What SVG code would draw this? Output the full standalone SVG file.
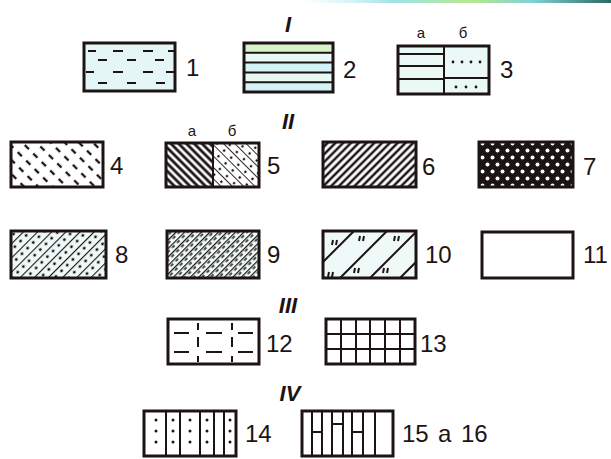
<svg xmlns="http://www.w3.org/2000/svg" width="611" height="459" viewBox="0 0 611 459">
<style>
.box{fill:none;stroke:#1c1414;stroke-width:3}
.ln{stroke:#1c1414;stroke-width:2;fill:none}
.lbl{font-family:"Liberation Sans",Arial,sans-serif;font-size:24px;fill:#1c1414}
.sm{font-family:"Liberation Sans",Arial,sans-serif;font-size:15px;fill:#1c1414}
.rom{font-family:"Liberation Sans",Arial,sans-serif;font-size:22px;font-style:italic;font-weight:bold;fill:#1c1414}
</style>
<defs>
<pattern id="p4" width="10" height="12" patternUnits="userSpaceOnUse" patternTransform="rotate(-45)">
<line x1="5" y1="0" x2="5" y2="6" stroke="#1c1414" stroke-width="2.3"/>
</pattern>
<pattern id="p5a" width="5.5" height="10" patternUnits="userSpaceOnUse" patternTransform="rotate(-45)">
<line x1="2.75" y1="0" x2="2.75" y2="10" stroke="#1c1414" stroke-width="2.8"/>
</pattern>
<pattern id="p5b" width="8" height="10" patternUnits="userSpaceOnUse" patternTransform="rotate(-45)">
<line x1="0" y1="0" x2="0" y2="10" stroke="#1c1414" stroke-width="1.8"/>
<circle cx="4" cy="5" r="1.3" fill="#1c1414"/>
</pattern>
<pattern id="p6" width="5.5" height="10" patternUnits="userSpaceOnUse" patternTransform="rotate(45)">
<line x1="2.75" y1="0" x2="2.75" y2="10" stroke="#1c1414" stroke-width="2.5"/>
</pattern>
<pattern id="p7" width="10" height="14" patternUnits="userSpaceOnUse">
<rect width="10" height="14" fill="#1c1414"/>
<circle cx="2.5" cy="3.5" r="2" fill="#fff"/>
<circle cx="7.5" cy="10.5" r="2" fill="#fff"/>
</pattern>
<pattern id="p8" width="10" height="8" patternUnits="userSpaceOnUse" patternTransform="rotate(45)">
<line x1="0" y1="0" x2="0" y2="8" stroke="#1c1414" stroke-width="2.2"/>
<circle cx="5" cy="4" r="1.4" fill="#1c1414"/>
</pattern>
<pattern id="p9" width="6" height="7" patternUnits="userSpaceOnUse" patternTransform="rotate(45)">
<line x1="0" y1="0" x2="0" y2="7" stroke="#1c1414" stroke-width="2.5"/>
<line x1="3" y1="1" x2="3" y2="4.5" stroke="#1c1414" stroke-width="1.5"/>
</pattern>
<clipPath id="c10"><rect x="323" y="231" width="93" height="47"/></clipPath>
<linearGradient id="top" x1="0" x2="1" y1="0" y2="0">
<stop offset="0" stop-color="#c8f0f0" stop-opacity="0"/>
<stop offset="0.3" stop-color="#9fe3e8"/>
<stop offset="0.55" stop-color="#b8e890"/>
<stop offset="0.75" stop-color="#7fd0d8"/>
<stop offset="1" stop-color="#2a6a60"/>
</linearGradient>
</defs>
<rect width="611" height="459" fill="#fff"/>
<rect x="300" y="0" width="311" height="3" fill="url(#top)"/>

<g id="headings">
<text class="rom" x="288" y="32" text-anchor="middle">I</text>
<text class="rom" x="288" y="129" text-anchor="middle">II</text>
<text class="rom" x="288" y="313" text-anchor="middle">III</text>
<text class="rom" x="290" y="401" text-anchor="middle">IV</text>
</g>

<g id="n1">
<rect x="84" y="43" width="91" height="48" fill="#e4f7f6"/>
<path class="ln" stroke-width="2.2" d="M88 51h8M113 51h10M143 51h10M168 51h6M98 60h9M127 60h9M155 60h9M86 72h8M113 72h10M143 72h10M166 72h8M98 83h9M127 83h9M156 83h9"/>
<rect class="box" x="84" y="43" width="91" height="48"/>
<text class="lbl" x="186" y="76">1</text>
</g>

<g id="n2">
<rect x="244" y="43" width="89" height="49" fill="#e8f8f2"/>
<rect x="244" y="43" width="89" height="9" fill="#d8f2c8"/>
<rect x="244" y="63" width="89" height="9" fill="#d4f3f6"/>
<rect x="244" y="83" width="89" height="9" fill="#d4f3f6"/>
<path class="ln" d="M244 52.8h89M244 62.6h89M244 72.4h89M244 82.2h89"/>
<rect class="box" x="244" y="43" width="89" height="49"/>
<text class="lbl" x="343" y="78">2</text>
</g>

<g id="n3">
<text class="sm" x="421" y="38" text-anchor="middle">а</text>
<text class="sm" x="463" y="38" text-anchor="middle">б</text>
<rect x="398" y="46" width="91" height="48" fill="#eaf8f6"/>
<path class="ln" d="M398 54h46M398 66h46M398 79h46M444 78h45M444 46v48"/>
<g fill="#1c1414">
<circle cx="453" cy="62" r="1.4"/><circle cx="462" cy="62" r="1.4"/><circle cx="471" cy="62" r="1.4"/><circle cx="480" cy="62" r="1.4"/>
<circle cx="456" cy="87" r="1.4"/><circle cx="466" cy="87" r="1.4"/><circle cx="476" cy="87" r="1.4"/>
</g>
<rect class="box" x="398" y="46" width="91" height="48"/>
<text class="lbl" x="500" y="78">3</text>
</g>

<g id="n4">
<rect x="11" y="142" width="92" height="45" fill="url(#p4)"/>
<rect class="box" x="11" y="142" width="92" height="45"/>
<text class="lbl" x="110" y="174">4</text>
</g>

<g id="n5">
<text class="sm" x="192" y="136" text-anchor="middle">а</text>
<text class="sm" x="232" y="136" text-anchor="middle">б</text>
<rect x="166" y="143" width="47" height="44" fill="url(#p5a)"/>
<rect x="213" y="143" width="46" height="44" fill="url(#p5b)"/>
<path class="ln" d="M213 143v44"/>
<rect class="box" x="166" y="143" width="93" height="44"/>
<text class="lbl" x="267" y="174">5</text>
</g>

<g id="n6">
<rect x="323" y="142" width="93" height="45" fill="url(#p6)"/>
<rect class="box" x="323" y="142" width="93" height="45"/>
<text class="lbl" x="422" y="175">6</text>
</g>

<g id="n7">
<rect x="479" y="142" width="94" height="45" fill="url(#p7)"/>
<rect class="box" x="479" y="142" width="94" height="45"/>
<text class="lbl" x="583" y="175">7</text>
</g>

<g id="n8">
<rect x="11" y="231" width="95" height="47" fill="#eef9f8"/>
<rect x="11" y="231" width="95" height="47" fill="url(#p8)"/>
<rect class="box" x="11" y="231" width="95" height="47"/>
<text class="lbl" x="115" y="263">8</text>
</g>

<g id="n9">
<rect x="167" y="231" width="92" height="47" fill="#eef9f8"/>
<rect x="167" y="231" width="92" height="47" fill="url(#p9)"/>
<rect class="box" x="167" y="231" width="92" height="47"/>
<text class="lbl" x="267" y="263">9</text>
</g>

<g id="n10">
<rect x="323" y="231" width="93" height="47" fill="#eef9f8"/>
<g clip-path="url(#c10)">
<path class="ln" d="M323 262L354 231M340 278L387 231M370 278L417 231M400 278L417 261"/>
<path class="ln" stroke-width="1.4" d="M333 240l-1 5M337 240l-1 5M360 236l-1 5M364 236l-1 5M395 236l-1 5M399 236l-1 5M329 272l-1 5M333 272l-1 5M355 268l-1 5M359 268l-1 5M384 268l-1 5M388 268l-1 5"/>
</g>
<rect class="box" x="323" y="231" width="93" height="47"/>
<text class="lbl" x="425" y="263">10</text>
</g>

<g id="n11">
<rect class="box" x="482" y="232" width="91" height="46"/>
<text class="lbl" x="583" y="263">11</text>
</g>

<g id="n12">
<path class="ln" d="M174 333h15M206 333h16M238 333h15M174 352h15M206 352h16M238 352h15"/>
<path class="ln" d="M198 323v7M198 337v10M198 356v6M232 323v7M232 337v10M232 356v6"/>
<rect class="box" x="168" y="319" width="91" height="45"/>
<text class="lbl" x="266" y="352">12</text>
</g>

<g id="n13">
<path class="ln" d="M326 334h89M326 349h89M341 319v45M356 319v45M370 319v45M385 319v45M400 319v45"/>
<rect class="box" x="326" y="319" width="89" height="45"/>
<text class="lbl" x="420" y="352">13</text>
</g>

<g id="n14">
<path class="ln" d="M166 411v45M180 411v45M200 411v45M214 411v45M224 411v45"/>
<g fill="#1c1414">
<circle cx="156" cy="420" r="1.5"/><circle cx="156" cy="431" r="1.5"/><circle cx="156" cy="442" r="1.5"/>
<circle cx="173" cy="420" r="1.5"/><circle cx="173" cy="431" r="1.5"/><circle cx="173" cy="442" r="1.5"/>
<circle cx="190" cy="420" r="1.5"/><circle cx="190" cy="431" r="1.5"/><circle cx="190" cy="442" r="1.5"/>
<circle cx="207" cy="420" r="1.5"/><circle cx="207" cy="431" r="1.5"/><circle cx="207" cy="442" r="1.5"/>
<circle cx="230" cy="420" r="1.5"/><circle cx="230" cy="431" r="1.5"/><circle cx="230" cy="442" r="1.5"/>
</g>
<rect class="box" x="144" y="411" width="92" height="45"/>
<text class="lbl" x="245" y="442">14</text>
</g>

<g id="n15">
<path class="ln" stroke-width="2.8" d="M312 411v45M322 411v45M312 432h10M332 411v45M343 411v45M332 424h11M352 411v45M363 411v45M352 432h11M375 411v45"/>
<rect class="box" x="302" y="411" width="91" height="45"/>
<text class="lbl" x="402" y="442">15</text>
<text class="lbl" x="438" y="442" font-size="20">а</text>
<text class="lbl" x="461" y="442">16</text>
</g>
</svg>
